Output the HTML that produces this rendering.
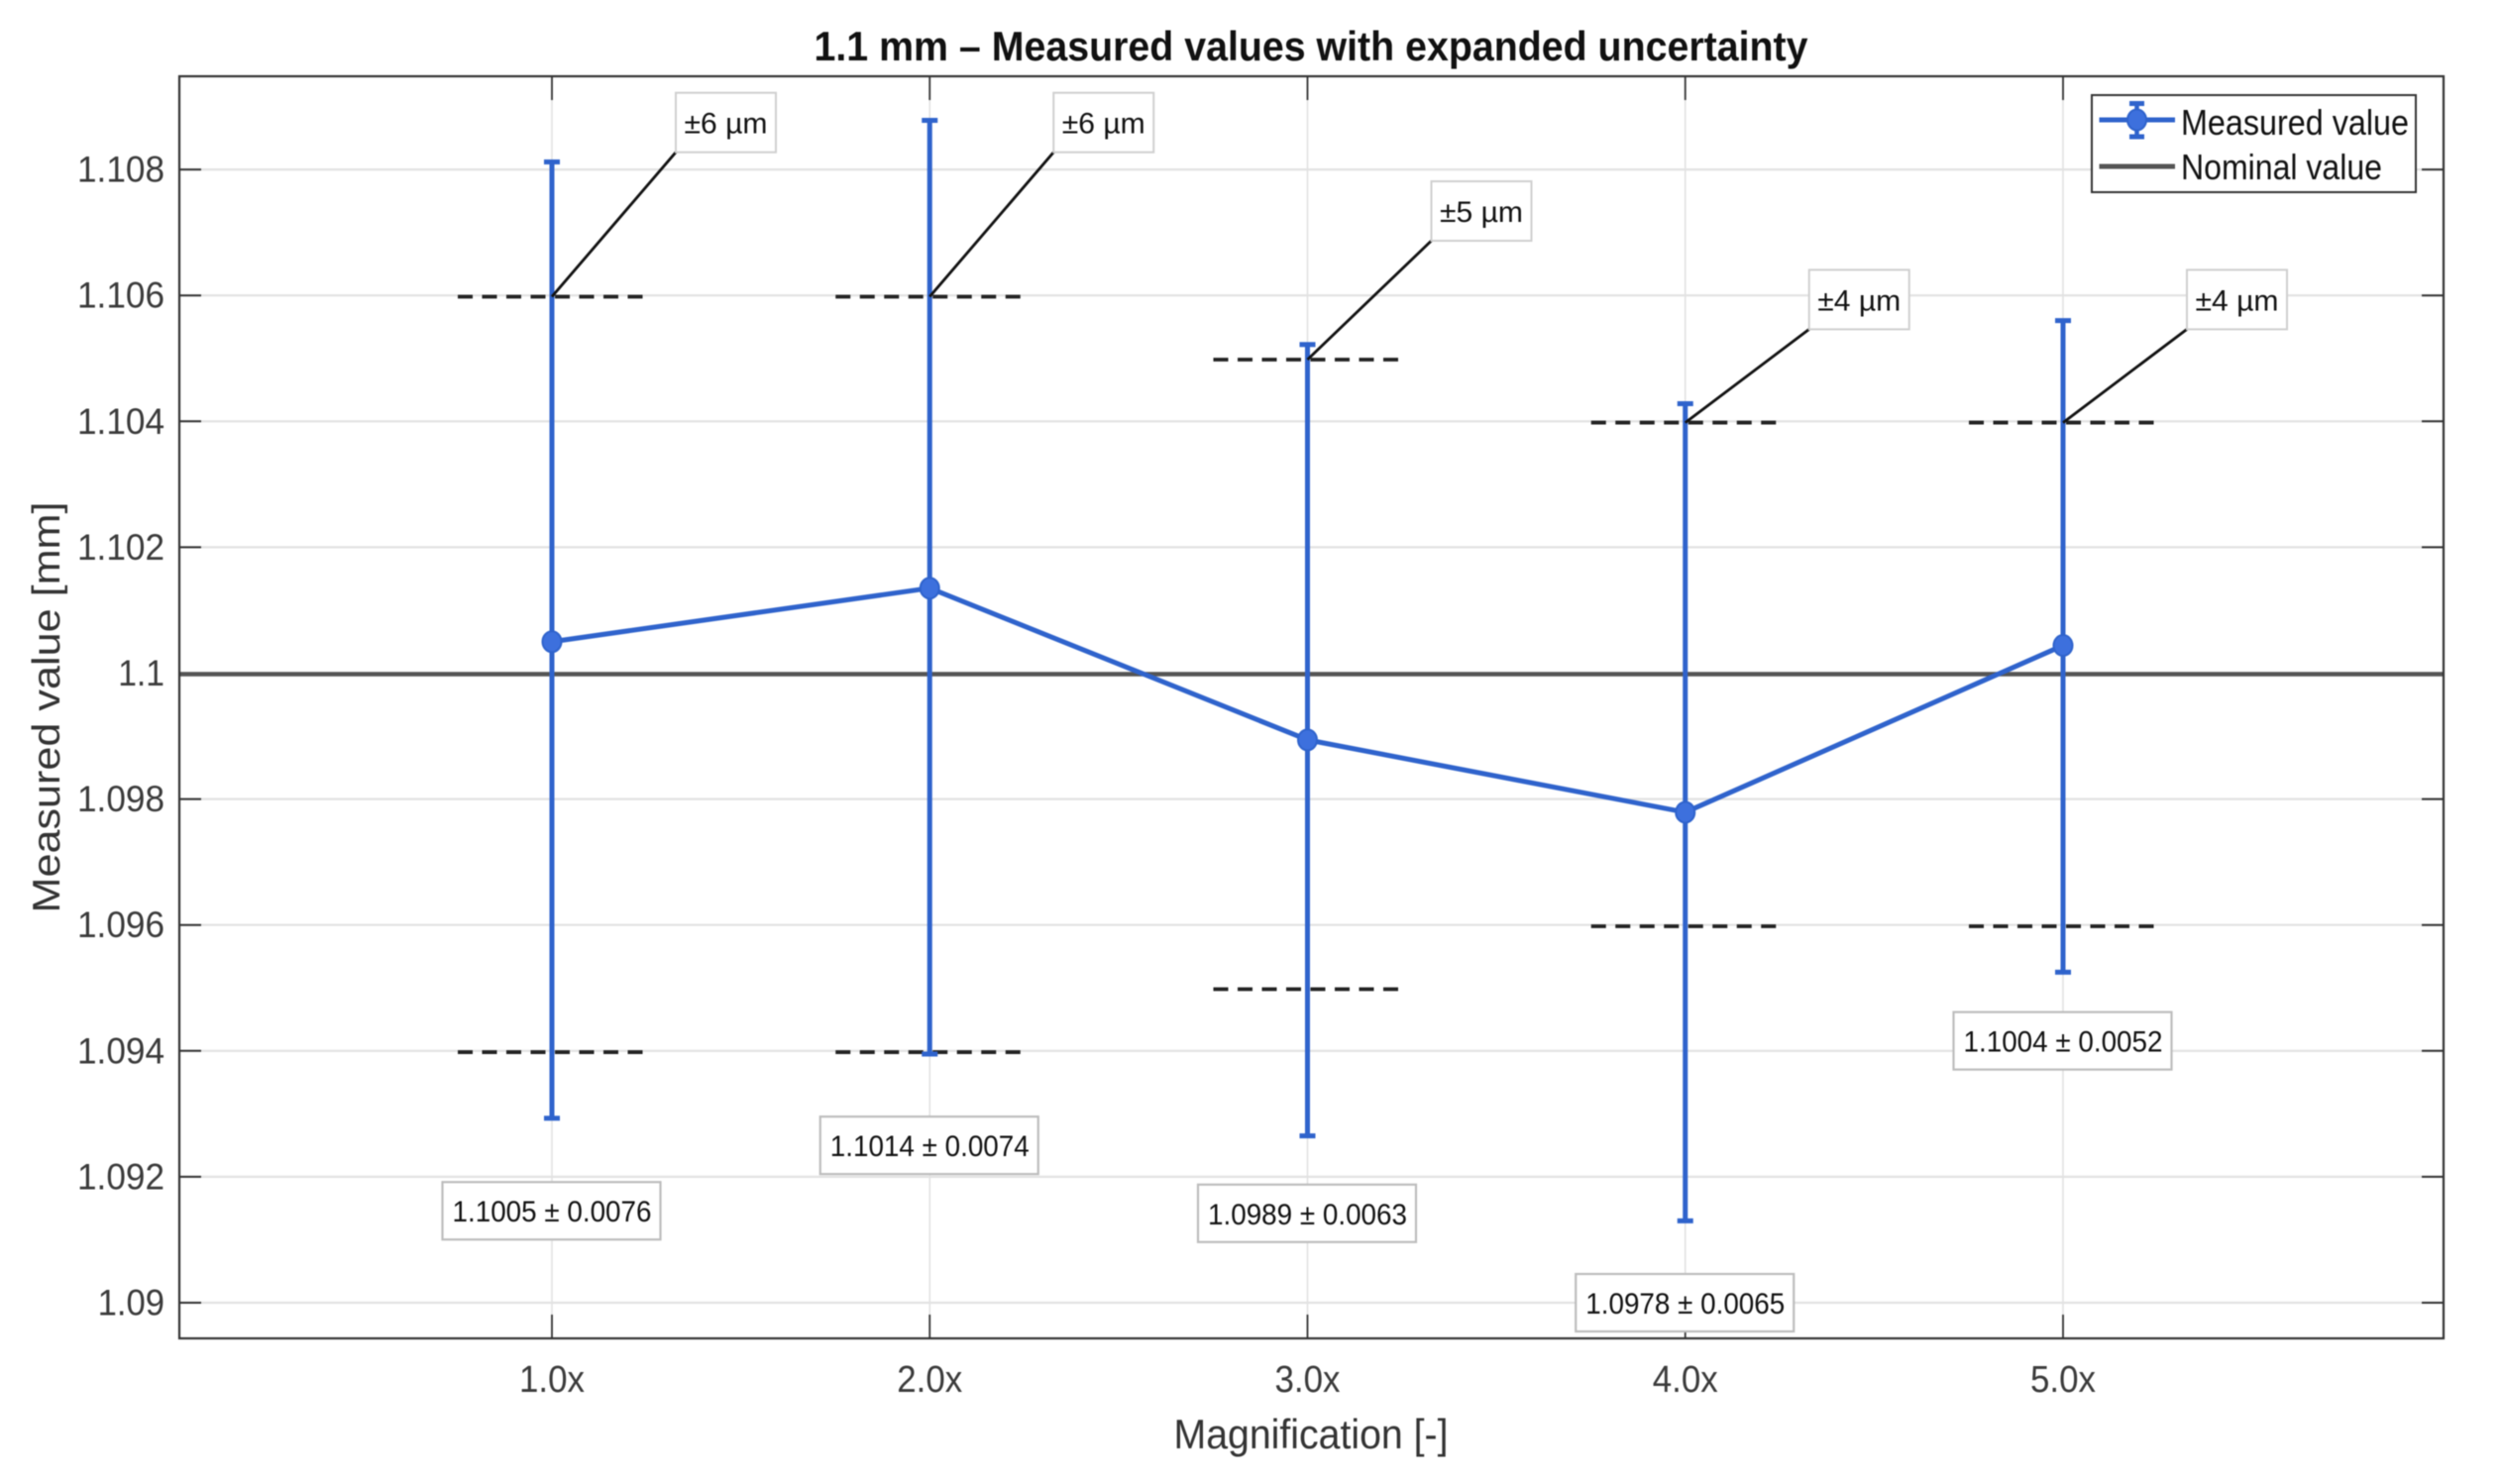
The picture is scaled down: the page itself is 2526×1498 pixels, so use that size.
<!DOCTYPE html>
<html lang="en">
<head>
<meta charset="utf-8">
<title>1.1 mm - Measured values with expanded uncertainty</title>
<style>
  html, body { margin: 0; padding: 0; background: #fff; }
  svg { display: block; font-family: "Liberation Sans", Arial, sans-serif; filter: blur(0.5px); }
</style>
</head>
<body>
<svg id="chart" xmlns="http://www.w3.org/2000/svg" width="2526" height="1498" viewBox="0 0 2526 1498">
  <rect x="0" y="0" width="2526" height="1498" fill="#ffffff"/>
  <rect x="181" y="77" width="2285" height="1274" fill="#ffffff"/>
  <g id="grid"></g>
  <g id="ticks"></g>
  <g id="marks"></g>
  <rect x="181" y="77" width="2285" height="1274" fill="none" stroke="#333333" stroke-width="2.2"/>
  <g id="notes"></g>
  <g id="ticklabels"></g>

  <text x="1323" y="61" text-anchor="middle" font-size="42" font-weight="bold" fill="#111111" textLength="1003" lengthAdjust="spacingAndGlyphs">1.1 mm – Measured values with expanded uncertainty</text>
  <text x="1323" y="1462" text-anchor="middle" font-size="42" fill="#333333" textLength="277" lengthAdjust="spacingAndGlyphs">Magnification [-]</text>
  <text transform="translate(60,714) rotate(-90)" x="0" y="0" text-anchor="middle" font-size="39" fill="#333333" textLength="415" lengthAdjust="spacingAndGlyphs">Measured value [mm]</text>

  <g>
    <rect x="2111" y="96" width="327" height="98" fill="#ffffff" stroke="#333333" stroke-width="2"/>
    <g>
      <line x1="2118.5" y1="121" x2="2195" y2="121" stroke="#2f63cc" stroke-width="5"/>
      <line x1="2156.5" y1="104" x2="2156.5" y2="139" stroke="#2f63cc" stroke-width="4.5"/>
      <line x1="2149" y1="104.5" x2="2164" y2="104.5" stroke="#2f63cc" stroke-width="5"/>
      <line x1="2149" y1="138" x2="2164" y2="138" stroke="#2f63cc" stroke-width="5"/>
      <ellipse cx="2156.5" cy="121" rx="9.5" ry="10.5" fill="#3d70dd" stroke="#2f63cc" stroke-width="2"/>
      <text x="2201" y="136" font-size="36" fill="#111111" textLength="230" lengthAdjust="spacingAndGlyphs">Measured value</text>
    </g>
    <g>
      <line x1="2118.5" y1="168" x2="2195" y2="168" stroke="#555555" stroke-width="5"/>
      <text x="2201" y="181" font-size="36" fill="#111111" textLength="203" lengthAdjust="spacingAndGlyphs">Nominal value</text>
    </g>
  </g>
</svg>

<script>
// Data
const categories = ['1.0x', '2.0x', '3.0x', '4.0x', '5.0x'];
const measuredValues = [1.1005, 1.10135, 1.09894, 1.09779, 1.10044];
const upperBounds = [1.10812, 1.10878, 1.10522, 1.10428, 1.1056];
const lowerBounds = [1.09293, 1.09395, 1.09265, 1.0913, 1.09525];
const upperLimits = [1.10598, 1.10598, 1.10498, 1.10398, 1.10398];
const lowerLimits = [1.09398, 1.09398, 1.09498, 1.09598, 1.09598];
const nominalValue = [1.1];
const toleranceLabels = ['±6 µm', '±6 µm', '±5 µm', '±4 µm', '±4 µm'];
const toleranceValues = [6, 6, 5, 4, 4];
const resultLabels = ['1.1005 ± 0.0076', '1.1014 ± 0.0074', '1.0989 ± 0.0063', '1.0978 ± 0.0065', '1.1004 ± 0.0052'];
const resultAnchors = [1.09146, 1.0925, 1.09142, 1.09, 1.09416];
const yTicks = [1.09, 1.092, 1.094, 1.096, 1.098, 1.1, 1.102, 1.104, 1.106, 1.108];
const yTickLabels = ['1.09', '1.092', '1.094', '1.096', '1.098', '1.1', '1.102', '1.104', '1.106', '1.108'];

// Axis functions
const plot = { left: 181, right: 2466, top: 77, bottom: 1351 };
function xScale(i) { return 557 + 381.25 * i; }
function yScale(v) { return 1315 - (v - 1.09) * 63550; }

const NS = 'http://www.w3.org/2000/svg';
function make(tag, attrs, parent) {
  const el = document.createElementNS(NS, tag);
  for (const k in attrs) el.setAttribute(k, attrs[k]);
  parent.appendChild(el);
  return el;
}
const gridG = document.getElementById('grid');
const ticksG = document.getElementById('ticks');
const marksG = document.getElementById('marks');
const notesG = document.getElementById('notes');
const labelsG = document.getElementById('ticklabels');

// Horizontal grid, ticks, labels
yTicks.forEach(function (v, i) {
  const y = yScale(v);
  const g = make('line', { x1: plot.left, x2: plot.right, y1: y, y2: y, stroke: '#e2e2e2', 'stroke-width': 2.2 }, gridG);
  
  
  const tl = make('line', { x1: plot.left, x2: plot.left + 22, y1: y, y2: y, stroke: '#333333', 'stroke-width': 2 }, ticksG);
  
  
  const tr = make('line', { x1: plot.right - 22, x2: plot.right, y1: y, y2: y, stroke: '#333333', 'stroke-width': 2 }, ticksG);
  
  
  const t = make('text', { x: 166, y: y + 12.5, 'text-anchor': 'end', 'font-size': 37, fill: '#3a3a3a', textLength: yTickLabels[i].length * 20.6 - 15, lengthAdjust: 'spacingAndGlyphs' }, labelsG);
  
  
  t.textContent = yTickLabels[i];
});

// Vertical grid, ticks, labels
categories.forEach(function (c, i) {
  const x = xScale(i);
  const g = make('line', { x1: x, x2: x, y1: plot.top, y2: plot.bottom, stroke: '#e2e2e2', 'stroke-width': 1.6 }, gridG);
  
  
  const tb = make('line', { x1: x, x2: x, y1: plot.bottom - 24, y2: plot.bottom, stroke: '#333333', 'stroke-width': 1.8 }, ticksG);
  
  
  const tt = make('line', { x1: x, x2: x, y1: plot.top, y2: plot.top + 24, stroke: '#333333', 'stroke-width': 1.8 }, ticksG);
  
  
  const t = make('text', { x: x, y: 1405, 'text-anchor': 'middle', 'font-size': 38, fill: '#3a3a3a', textLength: 66, lengthAdjust: 'spacingAndGlyphs' }, labelsG);
  
  
  t.textContent = c;
});

// Nominal line
const nominal = make('line', { x1: plot.left, x2: plot.right, y1: yScale(nominalValue[0]) + 1, y2: yScale(nominalValue[0]) + 1, stroke: '#555555', 'stroke-width': 4.5 }, marksG);



// Tolerance limits
const halfWidth = 95;
categories.forEach(function (c, i) {
  const x = xScale(i);
  [upperLimits[i], lowerLimits[i]].forEach(function (v, k) {
    const d = make('line', { x1: x - halfWidth, x2: x + halfWidth, y1: yScale(v), y2: yScale(v), stroke: '#222222', 'stroke-width': 3.8, 'stroke-dasharray': '15 9.5' }, marksG);
    
    
  });
});

// Error bars
categories.forEach(function (c, i) {
  const x = xScale(i);
  const bar = make('line', { x1: x, x2: x, y1: yScale(upperBounds[i]), y2: yScale(lowerBounds[i]), stroke: '#2f63cc', 'stroke-width': 5 }, marksG);
  
  
  [upperBounds[i], lowerBounds[i]].forEach(function (v, k) {
    const cap = make('line', { x1: x - 8, x2: x + 8, y1: yScale(v), y2: yScale(v), stroke: '#2f63cc', 'stroke-width': 5 }, marksG);
    
    
  });
});

// Measured series
const seriesLine = make('polyline', {
  points: measuredValues.map(function (v, i) { return xScale(i) + ',' + yScale(v); }).join(' '),
  fill: 'none', stroke: '#2f63cc', 'stroke-width': 5, 'stroke-linejoin': 'round'
}, marksG);


measuredValues.forEach(function (v, i) {
  const p = make('ellipse', { cx: xScale(i), cy: yScale(v), rx: 9.5, ry: 10.5, fill: '#3d70dd', stroke: '#2f63cc', 'stroke-width': 2 }, marksG);
  
  
});

// Tolerance annotations: the callout rises with the tolerance
toleranceLabels.forEach(function (label, i) {
  const x0 = xScale(i);
  const y0 = yScale(upperLimits[i]);
  const left = x0 + 125;
  const bottom = yScale(upperLimits[i] + toleranceValues[i] * 0.000406 - 0.000142);
  const leader = make('line', { x1: x0, y1: y0, x2: left, y2: bottom, stroke: '#111111', 'stroke-width': 2.8 }, notesG);
  
  
  const box = make('rect', { x: left, y: bottom - 60, width: 101, height: 60, fill: '#ffffff', stroke: '#cfcfcf', 'stroke-width': 2 }, notesG);
  
  
  const t = make('text', { x: left + 50.5, y: bottom - 19, 'text-anchor': 'middle', 'font-size': 30, fill: '#111111', textLength: 84, lengthAdjust: 'spacingAndGlyphs' }, notesG);
  
  
  t.textContent = label;
});

// Result annotations: anchored in data coordinates
resultLabels.forEach(function (label, i) {
  const x0 = xScale(i);
  const yc = yScale(resultAnchors[i]);
  const box = make('rect', { x: x0 - 110.5, y: yc - 29, width: 220, height: 58, fill: '#ffffff', stroke: '#bdbdbd', 'stroke-width': 2.2 }, notesG);
  
  
  const t = make('text', { x: x0, y: yc + 11, 'text-anchor': 'middle', 'font-size': 30, fill: '#111111', textLength: 201, lengthAdjust: 'spacingAndGlyphs' }, notesG);
  
  
  t.textContent = label;
});
</script>
</body>
</html>
